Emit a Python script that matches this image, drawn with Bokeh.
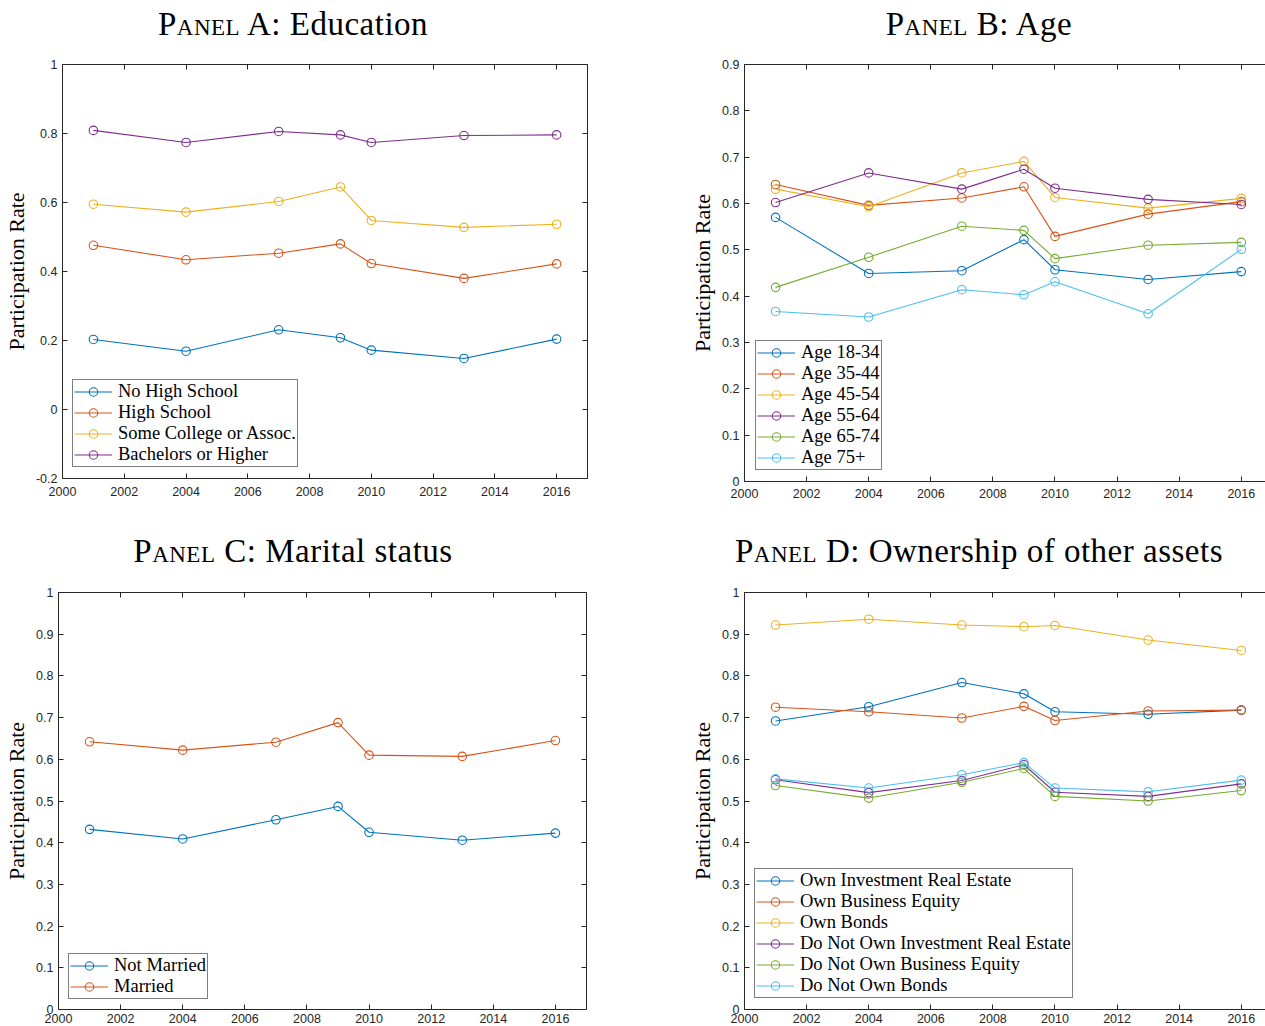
from bokeh.plotting import figure
from bokeh.models import (LinearAxis, FixedTicker, CustomJSTickFormatter, Range1d,
                          Legend, LegendItem, Div)
from bokeh.layouts import column, row
from bokeh.embed import file_html
from bokeh.resources import INLINE

# ---------------------------------------------------------------- data
years = [2001, 2004, 2007, 2009, 2010, 2013, 2016]

# Panel A: education
edu_labels = ["No High School", "High School", "Some College or Assoc.", "Bachelors or Higher"]
edu_no_high_school = [0.203, 0.169, 0.231, 0.208, 0.172, 0.148, 0.204]
edu_high_school = [0.476, 0.434, 0.453, 0.480, 0.423, 0.380, 0.422]
edu_some_college = [0.595, 0.572, 0.603, 0.645, 0.548, 0.528, 0.537]
edu_bachelors = [0.809, 0.774, 0.806, 0.796, 0.774, 0.794, 0.796]

# Panel B: age
age_labels = ["Age 18-34", "Age 35-44", "Age 45-54", "Age 55-64", "Age 65-74", "Age 75+"]
age_18_34 = [0.570, 0.449, 0.455, 0.522, 0.457, 0.436, 0.453]
age_35_44 = [0.641, 0.596, 0.612, 0.636, 0.529, 0.577, 0.604]
age_45_54 = [0.631, 0.593, 0.666, 0.691, 0.613, 0.590, 0.611]
age_55_64 = [0.602, 0.666, 0.631, 0.674, 0.633, 0.609, 0.598]
age_65_74 = [0.419, 0.484, 0.551, 0.542, 0.481, 0.510, 0.516]
age_75_plus = [0.367, 0.355, 0.414, 0.403, 0.431, 0.362, 0.501]

# Panel C: marital status
marital_labels = ["Not Married", "Married"]
not_married = [0.432, 0.409, 0.455, 0.487, 0.425, 0.406, 0.423]
married = [0.642, 0.622, 0.641, 0.688, 0.610, 0.607, 0.645]

# Panel D: ownership of other assets
asset_labels = ["Own Investment Real Estate", "Own Business Equity", "Own Bonds",
                "Do Not Own Investment Real Estate", "Do Not Own Business Equity",
                "Do Not Own Bonds"]
own_inv_real_estate = [0.692, 0.726, 0.784, 0.757, 0.714, 0.708, 0.718]
own_business_equity = [0.725, 0.714, 0.699, 0.727, 0.693, 0.716, 0.718]
own_bonds = [0.922, 0.936, 0.922, 0.918, 0.921, 0.886, 0.861]
no_inv_real_estate = [0.551, 0.520, 0.549, 0.587, 0.521, 0.511, 0.541]
no_business_equity = [0.537, 0.507, 0.545, 0.578, 0.511, 0.500, 0.525]
no_bonds = [0.553, 0.531, 0.563, 0.592, 0.531, 0.522, 0.550]

x_ticks = [2000, 2002, 2004, 2006, 2008, 2010, 2012, 2014, 2016]

# ---------------------------------------------------------------- style
COLORS = ["#0072BD", "#D95319", "#EDB120", "#7E2F8E", "#77AC30", "#4DBEEE"]
AXIS_GREY = "#262626"
SERIF = "Liberation Serif"
SANS = "Liberation Sans"


def style_axis(ax, show_labels=True):
    ax.axis_line_color = AXIS_GREY
    ax.axis_line_width = 1
    ax.major_tick_line_color = AXIS_GREY
    ax.major_tick_in = 5
    ax.major_tick_out = 0
    ax.minor_tick_line_color = None
    ax.major_label_text_font = SANS
    ax.major_label_text_font_size = "12.5px"
    ax.major_label_text_color = AXIS_GREY
    if not show_labels:
        ax.formatter = CustomJSTickFormatter(code="return ''")
        ax.major_label_standoff = 0


def build_panel(series, labels, x_end, y_lo, y_hi, y_step, frame_w, frame_h,
                left, right, top, bottom, x_label_gap, legend_at, with_right_axis):
    p = figure(frame_width=frame_w, frame_height=frame_h,
               x_range=Range1d(2000, x_end), y_range=Range1d(y_lo, y_hi),
               x_axis_type=None, y_axis_type=None,
               output_backend="svg", toolbar_location=None,
               min_border_left=left, min_border_right=right,
               min_border_top=top, min_border_bottom=bottom)
    p.outline_line_color = None
    p.background_fill_color = "white"
    p.border_fill_color = "white"

    n_ticks = int(round((y_hi - y_lo) / y_step)) + 1
    y_ticks = [round(y_lo + k * y_step, 1) for k in range(n_ticks)]
    y_fmt = CustomJSTickFormatter(code="return Number(tick.toFixed(1)).toString()")

    bottom_ax = LinearAxis(ticker=FixedTicker(ticks=x_ticks))
    style_axis(bottom_ax)
    bottom_ax.major_label_standoff = x_label_gap
    p.add_layout(bottom_ax, "below")

    top_ax = LinearAxis(ticker=FixedTicker(ticks=x_ticks))
    style_axis(top_ax, show_labels=False)
    p.add_layout(top_ax, "above")

    left_ax = LinearAxis(ticker=FixedTicker(ticks=y_ticks), formatter=y_fmt,
                         axis_label="Participation Rate")
    style_axis(left_ax)
    left_ax.major_label_standoff = 5
    left_ax.axis_label_text_font = SERIF
    left_ax.axis_label_text_font_style = "normal"
    left_ax.axis_label_text_font_size = "22px"
    left_ax.axis_label_text_color = "black"
    left_ax.axis_label_standoff = 4
    p.add_layout(left_ax, "left")

    if with_right_axis:
        right_ax = LinearAxis(ticker=FixedTicker(ticks=y_ticks))
        style_axis(right_ax, show_labels=False)
        p.add_layout(right_ax, "right")

    items = []
    for i, (vals, lab) in enumerate(zip(series, labels)):
        c = COLORS[i]
        ln = p.line(years, vals, line_color=c, line_width=1.1)
        sc = p.scatter(years, vals, marker="circle", size=8.5, fill_color=None,
                       line_color=c, line_width=1.1)
        items.append(LegendItem(label=lab, renderers=[ln, sc]))

    legend = Legend(items=items, location=legend_at)
    legend.label_text_font = SERIF
    legend.label_text_font_size = "18.5px"
    legend.label_text_color = "black"
    legend.label_height = 21
    legend.glyph_height = 21
    legend.glyph_width = 38
    legend.label_standoff = 6
    legend.spacing = 0
    legend.padding = 1
    legend.margin = 0
    legend.border_line_color = "black"
    legend.border_line_width = 1
    legend.background_fill_color = "white"
    legend.background_fill_alpha = 1
    p.add_layout(legend, "center")
    return p


def title_div(letter, topic, width, height, center, top):
    html = (
        f'<div style="margin-left:{center - 250}px;width:500px;margin-top:{top}px;'
        "text-align:center;white-space:nowrap;font-family:'Liberation Serif',serif;"
        'font-size:33px;line-height:36px;color:#000;letter-spacing:0.5px">'
        f'<span style="font-variant:small-caps">Panel</span> {letter}: {topic}</div>'
    )
    return Div(text=html, width=width, height=height, margin=0)


p_a = build_panel([edu_no_high_school, edu_high_school, edu_some_college, edu_bachelors],
                  edu_labels, 2017, -0.2, 1.0, 0.2, 525, 414,
                  62, 53, 14, 27, 8, (10, 11), True)
p_b = build_panel([age_18_34, age_35_44, age_45_54, age_55_64, age_65_74, age_75_plus],
                  age_labels, 2016.78, 0.0, 0.9, 0.1, 521, 417,
                  104, 0, 14, 24, 7, (11, 11), False)
p_c = build_panel([not_married, married],
                  marital_labels, 2017, 0.0, 1.0, 0.1, 528, 417,
                  58, 54, 19, 17, 4, (10, 10), True)
p_d = build_panel([own_inv_real_estate, own_business_equity, own_bonds,
                   no_inv_real_estate, no_business_equity, no_bonds],
                  asset_labels, 2016.78, 0.0, 1.0, 0.1, 521, 417,
                  104, 0, 19, 17, 4, (10, 11), False)

t_a = title_div("A", "Education", 640, 50, 293, 6)
t_b = title_div("B", "Age", 625, 50, 339, 6)
t_c = title_div("C", "Marital status", 640, 68, 293, 28)
t_d = title_div("D", "Ownership of other assets", 625, 68, 339, 28)

page = column(row(t_a, t_b, spacing=0), row(p_a, p_b, spacing=0),
              row(t_c, t_d, spacing=0), row(p_c, p_d, spacing=0), spacing=0)

open("out.html", "w").write(file_html(page, INLINE))
